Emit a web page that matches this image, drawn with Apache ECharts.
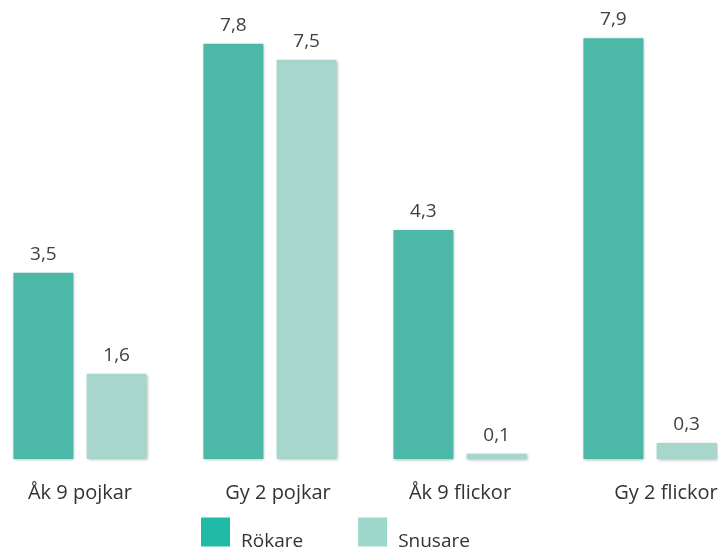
<!DOCTYPE html>
<html><head><meta charset="utf-8">
<script src="https://cdn.jsdelivr.net/npm/echarts@6/dist/echarts.min.js"></script>
<style>html,body{margin:0;padding:0;background:#fff;overflow:hidden}#c{position:absolute;left:-15px;top:0;width:760px;height:554px}</style>
</head><body><div id="c"></div>
<script>
const categories = ['Åk 9 pojkar', 'Gy 2 pojkar', 'Åk 9 flickor', 'Gy 2 flickor'];
const rokare = [3.5, 7.8, 4.3, 7.9];
const snusare = [1.6, 7.5, 0.1, 0.3];
const seriesNames = ['Rökare', 'Snusare'];

const font = 'Open Sans';
const chart = echarts.init(document.getElementById('c'));
const fmt = p => String(p.value).replace('.', ',');
const shadow = {shadowBlur: 3, shadowColor: 'rgba(0,0,0,0.3)', shadowOffsetX: 1, shadowOffsetY: 1};
const lab = {fontFamily: font, fontSize: 20, color: '#333'};
chart.setOption({
  animation: false,
  grid: {left: 0, right: 0, top: 33, bottom: 95},
  legend: {
    left: 216, top: 513, padding: 0, itemWidth: 29, itemHeight: 29, itemGap: 55,
    icon: 'rect',
    formatter: n => '{t|' + n + '}',
    textStyle: {
      fontFamily: font, fontSize: 19, color: '#333',
      rich: {t: {fontFamily: font, fontSize: 19, color: '#333', lineHeight: 24, padding: [19, 0, 0, 6]}}
    },
    data: [
      {name: seriesNames[0], itemStyle: {color: '#1fbba6', borderWidth: 0}},
      {name: seriesNames[1], itemStyle: {color: '#9dd6ca', borderWidth: 0}}
    ]
  },
  xAxis: {
    type: 'category', data: categories,
    axisLine: {show: false}, axisTick: {show: false},
    axisLabel: {
      interval: 0, margin: 24, fontFamily: font, fontSize: 20, color: '#333',
      formatter: (v, i) => '{l' + i + '|' + v + '}',
      rich: {
        l0: lab,
        l1: Object.assign({padding: [0, 0, 0, 16]}, lab),
        l2: lab,
        l3: Object.assign({padding: [0, 0, 0, 32]}, lab)
      }
    }
  },
  yAxis: {type: 'value', min: 0, max: 8, show: false, splitLine: {show: false}},
  series: [
    {
      name: seriesNames[0], type: 'bar', data: rokare, barWidth: 60, barGap: '22%',
      itemStyle: Object.assign({color: '#4cb9a8'}, shadow),
      label: {show: true, position: 'top', distance: 9, formatter: fmt, fontFamily: font, fontSize: 19, color: '#404040'}
    },
    {
      name: seriesNames[1], type: 'bar', data: snusare, barWidth: 60,
      itemStyle: Object.assign({color: '#a7d7cc'}, shadow),
      label: {show: true, position: 'top', distance: 9, formatter: fmt, fontFamily: font, fontSize: 19, color: '#404040'}
    }
  ]
});
</script></body></html>
